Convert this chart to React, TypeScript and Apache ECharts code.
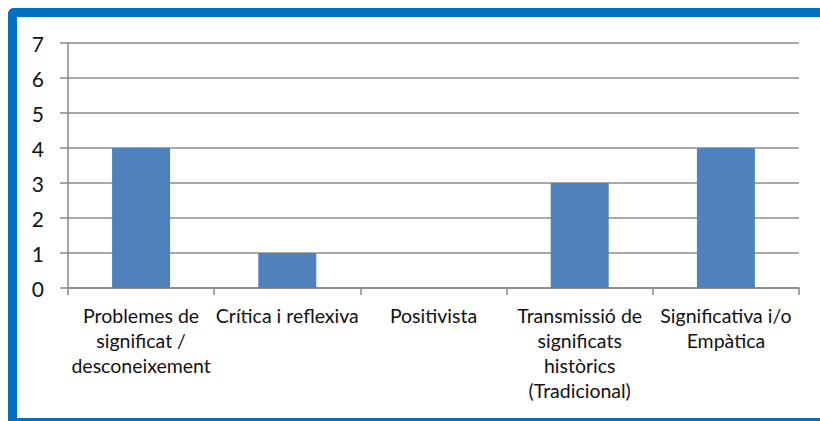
import React, { useEffect, useRef } from "react";
import * as echarts from "echarts";

const categories = [
  "Problemes de\nsignificat /\ndesconeixement",
  "Crítica i reflexiva",
  "Positivista",
  "Transmissió de\nsignificats\nhistòrics\n(Tradicional)",
  "Significativa i/o\nEmpàtica",
];
const values = [4, 1, 0, 3, 4];
const yTicks = [0, 1, 2, 3, 4, 5, 6, 7];

export default function App() {
  const ref = useRef<HTMLDivElement>(null);
  useEffect(() => {
    if (!ref.current) return;
    const chart = echarts.init(ref.current, undefined, { renderer: "svg" });
    const font = "Lato, 'Open Sans', sans-serif";
    chart.setOption({
      animation: false,
      backgroundColor: "#ffffff",
      grid: { left: 68, right: 21, top: 43, bottom: 133, containLabel: false },
      xAxis: {
        type: "category",
        data: categories,
        axisLine: { lineStyle: { color: "#878787", width: 1.5 } },
        axisTick: { show: true, length: 7, lineStyle: { color: "#878787", width: 1.5 } },
        axisLabel: {
          color: "#111",
          fontFamily: font,
          fontSize: 19.5,
          lineHeight: 25,
          margin: 15,
          interval: 0,
          align: "center",
        },
      },
      yAxis: {
        type: "value",
        min: 0,
        max: yTicks[yTicks.length - 1],
        interval: 1,
        axisLine: { show: true, lineStyle: { color: "#878787", width: 1.5 } },
        axisTick: { show: true, length: 8, lineStyle: { color: "#878787", width: 1.5 } },
        splitLine: { lineStyle: { color: "#8c8c8c", width: 1.5 } },
        axisLabel: {
          color: "#111",
          fontFamily: font,
          fontSize: 21,
          margin: 24,
        },
      },
      series: [
        {
          type: "bar",
          data: values,
          barWidth: 58,
          itemStyle: { color: "#4f81bd" },
        },
      ],
      graphic: [
        {
          type: "rect",
          shape: { x: 8, y: 8, width: 812, height: 9, r: [6, 0, 0, 0] },
          style: { fill: "#0070c0" },
          silent: true,
        },
        {
          type: "rect",
          shape: { x: 8, y: 8, width: 9, height: 411, r: [6, 0, 0, 0] },
          style: { fill: "#0070c0" },
          silent: true,
        },
        {
          type: "rect",
          shape: { x: 8, y: 418, width: 812, height: 3 },
          style: { fill: "#0070c0" },
          silent: true,
        },
      ],
    });
    return () => chart.dispose();
  }, []);
  return (
    <div
      ref={ref}
      style={{ position: "fixed", left: 0, top: 0, width: 820, height: 421 }}
    />
  );
}
